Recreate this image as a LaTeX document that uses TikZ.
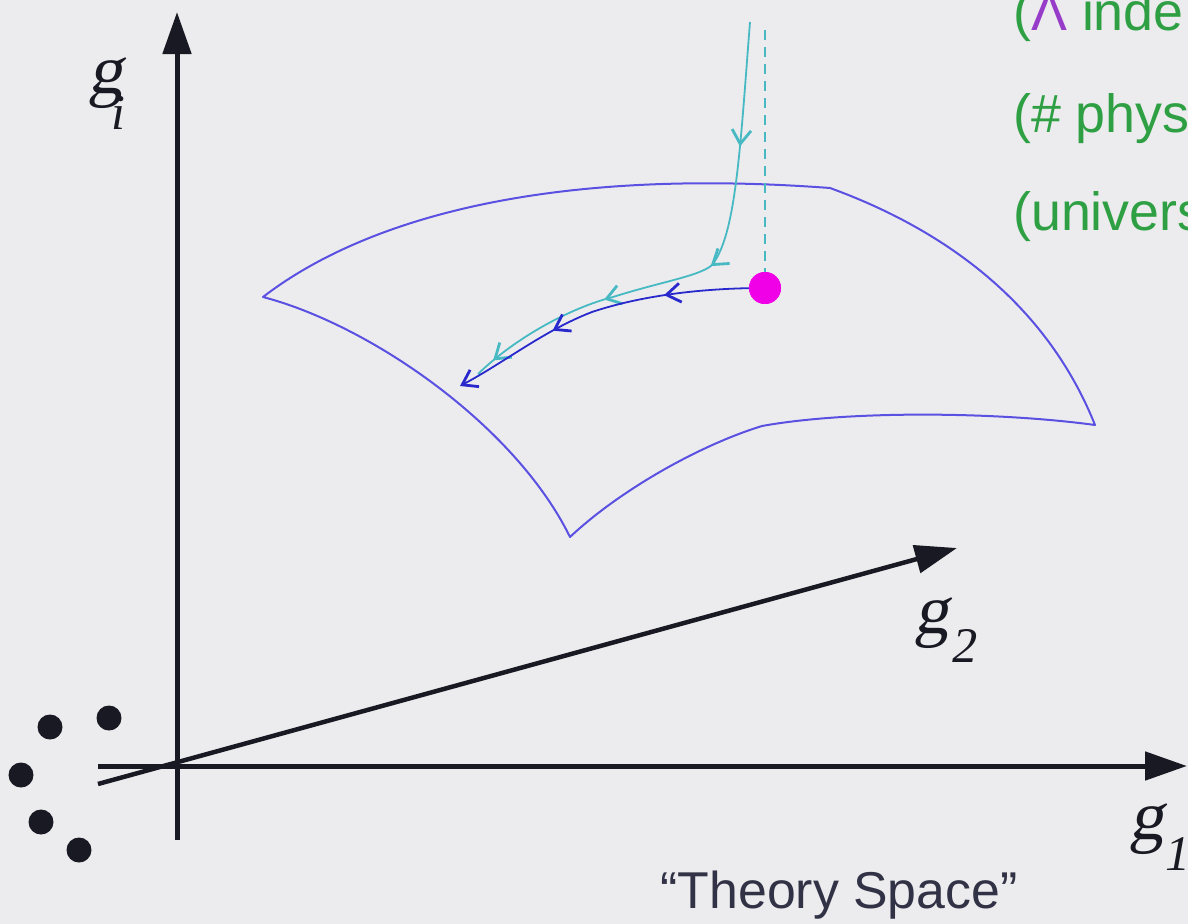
\documentclass[tikz,border=0pt]{standalone}
\usepackage{fontspec}
\setmainfont{Liberation Serif}
\newfontfamily\sansf{Liberation Sans}
\newfontfamily\slantf[FakeSlant=0.18]{Liberation Serif}
\usetikzlibrary{arrows.meta,decorations.markings}
\definecolor{bgc}{RGB}{236,236,238}
\definecolor{axisc}{RGB}{25,25,35}
\definecolor{surfc}{RGB}{90,80,225}
\definecolor{cyanc}{RGB}{70,185,195}
\definecolor{flowc}{RGB}{40,40,205}
\definecolor{magc}{RGB}{240,0,230}
\definecolor{greenc}{RGB}{46,160,67}
\definecolor{lamc}{RGB}{150,60,200}
\definecolor{titc}{RGB}{50,50,70}
\newcommand\glab[3]{{\slantf g}\kern#2\raisebox{-#3}{\fontsize{50}{50}\selectfont #1}}
\begin{document}
\begin{tikzpicture}[x=1bp,y=-1bp,
  axisline/.style={draw=axisc,line width=5bp,-{Triangle[length=42bp,width=28bp]}},
  surfline/.style={draw=surfc,line width=2bp,line join=round},
  cyanline/.style={draw=cyanc,line width=1.8bp},
  flowline/.style={draw=flowc,line width=1.8bp},
  glabel/.style={anchor=base west,inner sep=0pt,font=\fontsize{70}{72}\selectfont,text=axisc},
  gtext/.style={anchor=base west,inner sep=0pt,font=\sansf\fontsize{54}{60}\selectfont,text=greenc},
  blob/.style={circle,fill=axisc,minimum size=25bp,inner sep=0pt},
  barb/.tip={Straight Barb[length=14bp,width=19bp,line width=2.8bp]}]
\clip (0,0) rectangle (1188,924);
\fill[bgc] (0,0) rectangle (1188,924);

% axes
\coordinate (vb) at (177,840);
\coordinate (vt) at (177,12);
\coordinate (hb) at (98,766);
\coordinate (ht) at (1187,766);
\coordinate (db) at (98,784);
\coordinate (dt) at (957,548);
\draw[axisline] (vb) -- (vt);
\draw[axisline] (hb) -- (ht);
\draw[axisline,line width=4.5bp] (db) -- (dt);

% labels
\node[glabel] (gi) at (88,93) {\glab{\textit{i}}{-12bp}{36bp}};
\node[glabel] (g2) at (914,633) {\glab{{\slantf 2}}{1bp}{29bp}};
\node[glabel] (g1) at (1129,839) {\glab{\textit{1}}{1bp}{31bp}};

% dots
\node[blob] (d1) at (109,718) {};
\node[blob] (d2) at (50,727) {};
\node[blob] (d3) at (21,775) {};
\node[blob] (d4) at (41,822) {};
\node[blob] (d5) at (79,850) {};

% surface
\coordinate (sA) at (263,297);
\coordinate (sB) at (830,188);
\coordinate (sC) at (1095,425);
\coordinate (sK) at (762,426);
\coordinate (sD) at (570,537);
\draw[surfline] (sA) .. controls (350,230) and (520,165) .. (sB)
  .. controls (940,228) and (1045,300) .. (sC)
  .. controls (1000,412) and (850,410) .. (sK)
  .. controls (700,445) and (620,490) .. (sD)
  .. controls (515,425) and (370,325) .. (sA) -- cycle;

% dashed projection
\coordinate (dtop) at (765,30);
\node[circle,fill=magc,minimum size=32bp,inner sep=0pt] (pt) at (765,288) {};
\draw[cyanc,line width=2.2bp,dash pattern=on 10bp off 7bp] (dtop) -- (pt.north);

% cyan flow
\coordinate (cs) at (750,22);
\coordinate (ce) at (478,374);
\draw[cyanline,postaction={decorate,decoration={markings,
   mark=at position 0.245 with {\arrow{barb}},
   mark=at position 0.49 with {\arrow{barb}},
   mark=at position 0.71 with {\arrow{barb}},
   mark=at position 0.96 with {\arrow{barb}}}}]
  (cs) .. controls (740,150) and (736,235) .. (712,265)
       .. controls (700,276) and (660,282) .. (613,297)
       .. controls (570,308) and (515,338) .. (ce);

% blue flow
\coordinate (be) at (460,386);
\draw[flowline,-{barb},postaction={decorate,decoration={markings,
   mark=at position 0.31 with {\arrow{barb}},
   mark=at position 0.67 with {\arrow{barb}}}}]
  (pt.center) .. controls (700,288) and (640,296) .. (592,312)
       .. controls (545,330) and (505,362) .. (be);
\node[circle,fill=magc,minimum size=32bp,inner sep=0pt] at (pt) {};

% texts
\node[gtext] (t1) at (1013,30) {(\textcolor{lamc}{Λ} inde};
\node[gtext] (t2) at (1013,132) {(\# phys};
\node[gtext] (t3) at (1013,230) {(univers};
\node[anchor=base,inner sep=0pt,font=\sansf\fontsize{52}{56}\selectfont,text=titc] (ts) at (839,908) {“Theory Space”};
\end{tikzpicture}
\end{document}
